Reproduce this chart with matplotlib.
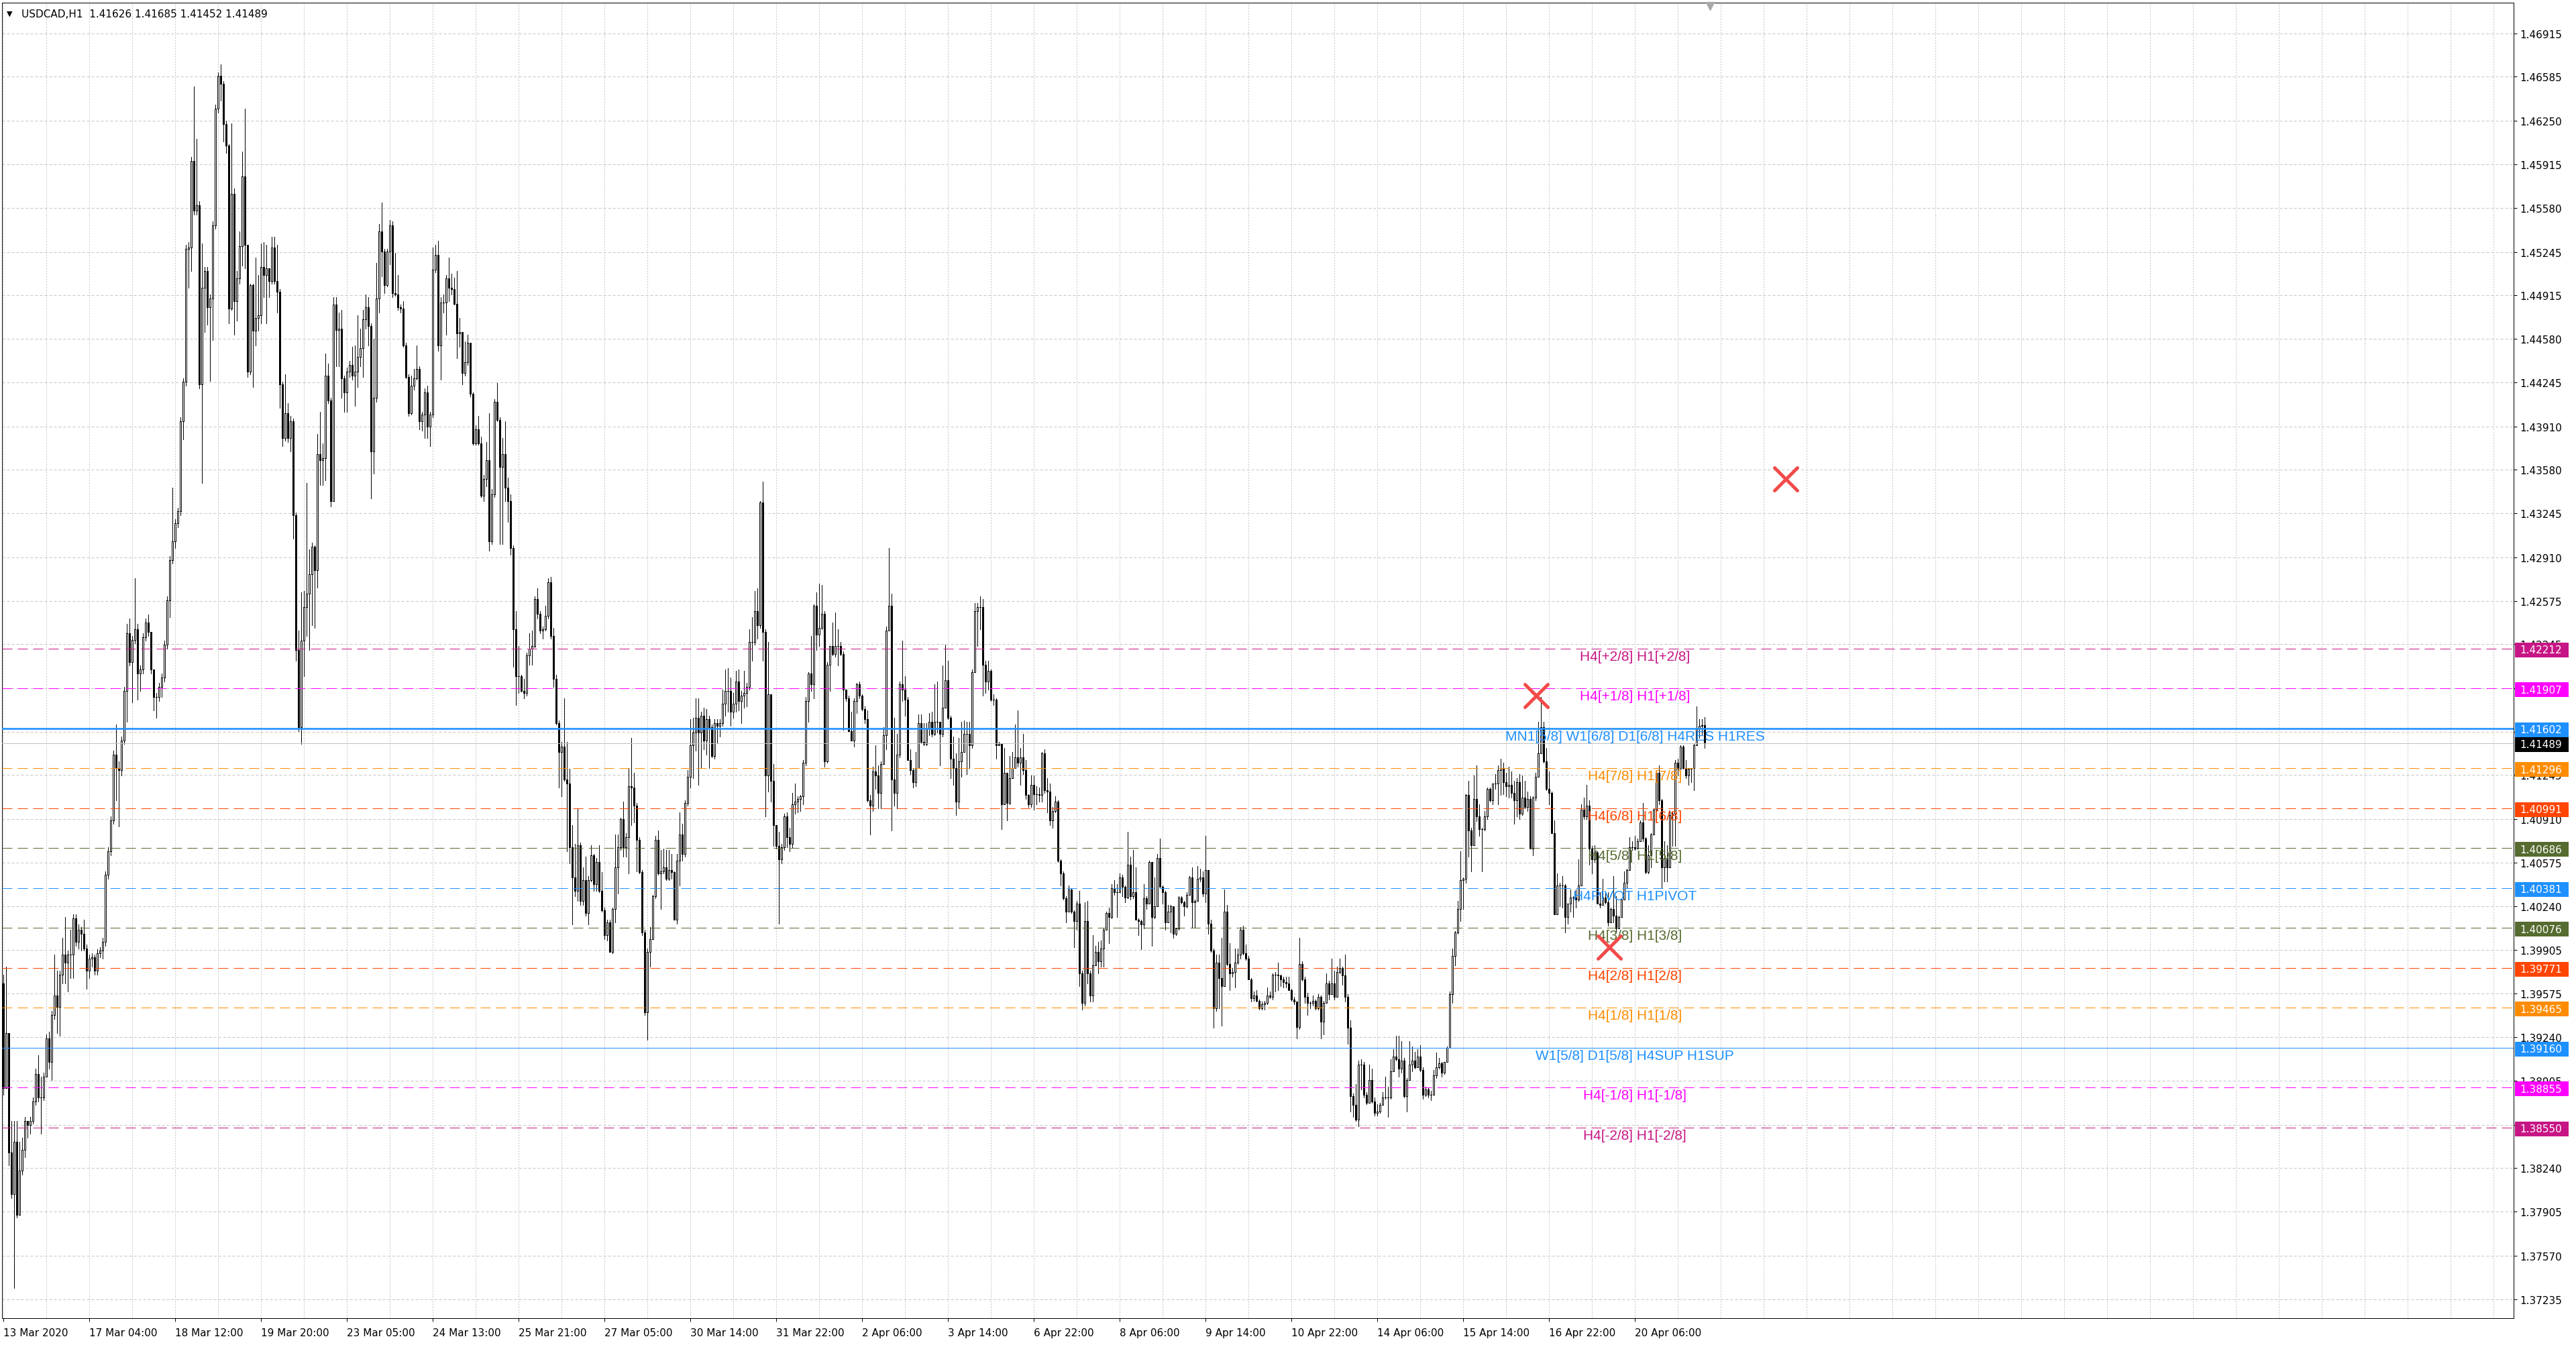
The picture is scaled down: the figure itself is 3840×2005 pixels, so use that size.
import numpy as np
import matplotlib
matplotlib.use("Agg")
import matplotlib.pyplot as plt
import matplotlib.transforms as mtransforms
from matplotlib import font_manager
from matplotlib.markers import MarkerStyle
from matplotlib.patches import Rectangle

# USDCAD H1 candles (bar 0 = 13 Mar 2020 evening)
first_open = 1.3965
close = [
    1.3885, 1.3927, 1.3836, 1.3804, 1.3844, 1.3788, 1.3822, 1.3838, 1.3860, 1.3857,
    1.3860, 1.3875, 1.3896, 1.3878, 1.3878, 1.3894, 1.3923, 1.3905, 1.3941, 1.3956,
    1.3947, 1.3972, 1.3987, 1.3981, 1.3987, 1.3987, 1.4015, 1.3997, 1.4006, 1.4003,
    1.3992, 1.3975, 1.3984, 1.3985, 1.3975, 1.3988, 1.3990, 1.3997, 1.4048, 1.4066,
    1.4090, 1.4140, 1.4130, 1.4128, 1.4151, 1.4189, 1.4233, 1.4211, 1.4228, 1.4236,
    1.4202, 1.4205, 1.4230, 1.4241, 1.4234, 1.4205, 1.4184, 1.4184, 1.4192, 1.4199,
    1.4224, 1.4258, 1.4289, 1.4303, 1.4317, 1.4326, 1.4395, 1.4425, 1.4527, 1.4528,
    1.4594, 1.4556, 1.4560, 1.4423, 1.4497, 1.4510, 1.4482, 1.4489, 1.4545, 1.4634,
    1.4659, 1.4653, 1.4622, 1.4606, 1.4481, 1.4569, 1.4487, 1.4504, 1.4529, 1.4582,
    1.4530, 1.4433, 1.4499, 1.4464, 1.4474, 1.4476, 1.4513, 1.4507, 1.4512, 1.4502,
    1.4528, 1.4502, 1.4494, 1.4423, 1.4382, 1.4401, 1.4382, 1.4395, 1.4323, 1.4220,
    1.4161, 1.4227, 1.4253, 1.4263, 1.4278, 1.4299, 1.4281, 1.4370, 1.4365, 1.4367,
    1.4430, 1.4411, 1.4334, 1.4484, 1.4465, 1.4466, 1.4428, 1.4417, 1.4433, 1.4438,
    1.4430, 1.4433, 1.4444, 1.4451, 1.4473, 1.4482, 1.4468, 1.4372, 1.4413, 1.4489,
    1.4540, 1.4525, 1.4499, 1.4525, 1.4545, 1.4493, 1.4492, 1.4482, 1.4481, 1.4453,
    1.4429, 1.4401, 1.4422, 1.4428, 1.4435, 1.4395, 1.4400, 1.4417, 1.4391, 1.4400,
    1.4511, 1.4522, 1.4453, 1.4486, 1.4486, 1.4504, 1.4497, 1.4496, 1.4485, 1.4462,
    1.4463, 1.4432, 1.4440, 1.4455, 1.4416, 1.4378, 1.4389, 1.4378, 1.4338, 1.4351,
    1.4365, 1.4303, 1.4339, 1.4410, 1.4396, 1.4360, 1.4370, 1.4344, 1.4334, 1.4298,
    1.4236, 1.4200, 1.4200, 1.4189, 1.4187, 1.4216, 1.4221, 1.4223, 1.4259, 1.4248,
    1.4235, 1.4236, 1.4246, 1.4272, 1.4231, 1.4198, 1.4164, 1.4142, 1.4146, 1.4121,
    1.4118, 1.4069, 1.4046, 1.4036, 1.4071, 1.4028, 1.4044, 1.4019, 1.4044, 1.4063,
    1.4041, 1.4058, 1.4036, 1.4021, 1.4002, 1.4012, 1.3989, 1.4022, 1.4054, 1.4069,
    1.4091, 1.4069, 1.4077, 1.4116, 1.4115, 1.4101, 1.4075, 1.4050, 1.4004, 1.3943,
    1.3989, 1.3999, 1.4032, 1.4075, 1.4049, 1.4051, 1.4054, 1.4045, 1.4052, 1.4050,
    1.4014, 1.4059, 1.4079, 1.4064, 1.4103, 1.4123, 1.4147, 1.4157, 1.4168, 1.4157,
    1.4170, 1.4151, 1.4167, 1.4161, 1.4139, 1.4164, 1.4162, 1.4164, 1.4179, 1.4189,
    1.4189, 1.4173, 1.4179, 1.4196, 1.4181, 1.4185, 1.4187, 1.4192, 1.4226, 1.4226,
    1.4250, 1.4239, 1.4333, 1.4234, 1.4124, 1.4186, 1.4120, 1.4086, 1.4070, 1.4060,
    1.4069, 1.4093, 1.4077, 1.4072, 1.4102, 1.4104, 1.4106, 1.4108, 1.4134, 1.4181,
    1.4202, 1.4194, 1.4254, 1.4232, 1.4237, 1.4248, 1.4135, 1.4209, 1.4223, 1.4217,
    1.4223, 1.4223, 1.4217, 1.4190, 1.4183, 1.4158, 1.4151, 1.4181, 1.4194, 1.4185,
    1.4175, 1.4167, 1.4105, 1.4101, 1.4127, 1.4124, 1.4111, 1.4133, 1.4155, 1.4235,
    1.4254, 1.4121, 1.4111, 1.4140, 1.4194, 1.4190, 1.4182, 1.4136, 1.4128, 1.4119,
    1.4130, 1.4164, 1.4150, 1.4148, 1.4160, 1.4165, 1.4156, 1.4165, 1.4165, 1.4156,
    1.4176, 1.4197, 1.4168, 1.4137, 1.4130, 1.4104, 1.4135, 1.4142, 1.4156, 1.4156,
    1.4147, 1.4203, 1.4250, 1.4253, 1.4253, 1.4209, 1.4196, 1.4204, 1.4182, 1.4182,
    1.4147, 1.4148, 1.4102, 1.4126, 1.4103, 1.4122, 1.4130, 1.4138, 1.4134, 1.4138,
    1.4128, 1.4109, 1.4102, 1.4117, 1.4110, 1.4110, 1.4109, 1.4141, 1.4113, 1.4112,
    1.4090, 1.4097, 1.4104, 1.4059, 1.4049, 1.4030, 1.4020, 1.4037, 1.4020, 1.4013,
    1.4026, 1.3973, 1.3950, 1.4013, 1.3973, 1.3956, 1.3979, 1.3989, 1.3982, 1.3992,
    1.4006, 1.4019, 1.4016, 1.4038, 1.4035, 1.4035, 1.4046, 1.4039, 1.4031, 1.4056,
    1.4032, 1.4035, 1.4014, 1.4013, 1.4010, 1.4030, 1.4026, 1.4058, 1.4016, 1.4024,
    1.4061, 1.4039, 1.4035, 1.4012, 1.4020, 1.4024, 1.4003, 1.4007, 1.4031, 1.4027,
    1.4024, 1.4033, 1.4046, 1.4027, 1.4028, 1.4045, 1.4046, 1.4034, 1.4052, 1.4011,
    1.3990, 1.3946, 1.3981, 1.3969, 1.3963, 1.4020, 1.3980, 1.3973, 1.3974, 1.3981,
    1.3987, 1.4006, 1.3988, 1.3984, 1.3968, 1.3954, 1.3956, 1.3952, 1.3946, 1.3949,
    1.3950, 1.3956, 1.3955, 1.3972, 1.3972, 1.3971, 1.3968, 1.3966, 1.3965, 1.3960,
    1.3953, 1.3951, 1.3932, 1.3980, 1.3968, 1.3955, 1.3950, 1.3950, 1.3952, 1.3946,
    1.3955, 1.3936, 1.3950, 1.3965, 1.3957, 1.3965, 1.3955, 1.3974, 1.3977, 1.3971,
    1.3955, 1.3931, 1.3879, 1.3872, 1.3861, 1.3903, 1.3903, 1.3880, 1.3874, 1.3891,
    1.3875, 1.3866, 1.3867, 1.3872, 1.3878, 1.3878, 1.3878, 1.3898, 1.3909, 1.3907,
    1.3900, 1.3906, 1.3879, 1.3891, 1.3903, 1.3906, 1.3901, 1.3909, 1.3899, 1.3880,
    1.3884, 1.3880, 1.3880, 1.3895, 1.3901, 1.3904, 1.3897, 1.3905, 1.3916, 1.3957,
    1.3986, 1.4004, 1.4022, 1.4044, 1.4045, 1.4109, 1.4082, 1.4071, 1.4106, 1.4093,
    1.4083, 1.4083, 1.4093, 1.4114, 1.4105, 1.4118, 1.4118, 1.4128, 1.4130, 1.4119,
    1.4116, 1.4117, 1.4111, 1.4105, 1.4119, 1.4095, 1.4107, 1.4100, 1.4106, 1.4068,
    1.4107, 1.4123, 1.4141, 1.4161, 1.4135, 1.4114, 1.4111, 1.4080, 1.4018, 1.4040,
    1.4040, 1.4040, 1.4016, 1.4026, 1.4031, 1.4031, 1.4029, 1.4040, 1.4098, 1.4093,
    1.4101, 1.4068, 1.4060, 1.4065, 1.4026, 1.4025, 1.4031, 1.4027, 1.4012, 1.4022,
    1.4017, 1.4007, 1.4016, 1.4029, 1.4042, 1.4052, 1.4069, 1.4069, 1.4068, 1.4074,
    1.4088, 1.4076, 1.4050, 1.4063, 1.4079, 1.4098, 1.4126, 1.4105, 1.4054, 1.4061,
    1.4054, 1.4094, 1.4095, 1.4134, 1.4129, 1.4146, 1.4130, 1.4124, 1.4129, 1.4130,
    1.4147, 1.4160, 1.4162, 1.41626, 1.41489,
]
high = [
    1.3972, 1.3978, 1.3927, 1.3860, 1.3860, 1.3860, 1.3844, 1.3847, 1.3863, 1.3860,
    1.3863, 1.3878, 1.3900, 1.3910, 1.3894, 1.3897, 1.3926, 1.3928, 1.3944, 1.3987,
    1.3975, 1.3975, 1.4000, 1.4016, 1.3990, 1.4006, 1.4018, 1.4018, 1.4010, 1.4008,
    1.4014, 1.3995, 1.3987, 1.3988, 1.3987, 1.3991, 1.3993, 1.4000, 1.4051, 1.4069,
    1.4093, 1.4143, 1.4163, 1.4135, 1.4154, 1.4192, 1.4240, 1.4244, 1.4231, 1.4275,
    1.4240, 1.4208, 1.4233, 1.4244, 1.4247, 1.4234, 1.4205, 1.4187, 1.4195, 1.4202,
    1.4227, 1.4261, 1.4292, 1.4344, 1.4320, 1.4329, 1.4398, 1.4428, 1.4530, 1.4532,
    1.4597, 1.4651, 1.4611, 1.4563, 1.4531, 1.4513, 1.4513, 1.4492, 1.4548, 1.4637,
    1.4662, 1.4668, 1.4655, 1.4625, 1.4607, 1.4623, 1.4573, 1.4510, 1.4540, 1.4601,
    1.4634, 1.4530, 1.4500, 1.4500, 1.4520, 1.4507, 1.4531, 1.4532, 1.4530, 1.4512,
    1.4536, 1.4536, 1.4530, 1.4496, 1.4425, 1.4431, 1.4409, 1.4399, 1.4397, 1.4325,
    1.4235, 1.4264, 1.4265, 1.4348, 1.4297, 1.4302, 1.4300, 1.4385, 1.4402, 1.4378,
    1.4447, 1.4439, 1.4413, 1.4490, 1.4490, 1.4478, 1.4480, 1.4430, 1.4436, 1.4441,
    1.4452, 1.4453, 1.4476, 1.4466, 1.4480, 1.4492, 1.4490, 1.4470, 1.4458, 1.4516,
    1.4546, 1.4562, 1.4527, 1.4527, 1.4549, 1.4548, 1.4524, 1.4507, 1.4484, 1.4487,
    1.4455, 1.4431, 1.4430, 1.4435, 1.4453, 1.4437, 1.4402, 1.4420, 1.4422, 1.4402,
    1.4528, 1.4530, 1.4533, 1.4490, 1.4492, 1.4507, 1.4520, 1.4508, 1.4505, 1.4510,
    1.4474, 1.4462, 1.4456, 1.4461, 1.4455, 1.4417, 1.4392, 1.4399, 1.4383, 1.4354,
    1.4379, 1.4401, 1.4343, 1.4412, 1.4424, 1.4398, 1.4382, 1.4395, 1.4352, 1.4339,
    1.4300, 1.4250, 1.4223, 1.4201, 1.4198, 1.4218, 1.4233, 1.4235, 1.4261, 1.4267,
    1.4250, 1.4238, 1.4254, 1.4275, 1.4276, 1.4237, 1.4201, 1.4166, 1.4150, 1.4183,
    1.4150, 1.4129, 1.4086, 1.4072, 1.4099, 1.4073, 1.4054, 1.4062, 1.4047, 1.4071,
    1.4064, 1.4061, 1.4071, 1.4050, 1.4023, 1.4014, 1.4014, 1.4023, 1.4079, 1.4079,
    1.4092, 1.4104, 1.4080, 1.4129, 1.4153, 1.4126, 1.4103, 1.4077, 1.4052, 1.4006,
    1.3992, 1.4008, 1.4033, 1.4078, 1.4082, 1.4067, 1.4068, 1.4067, 1.4067, 1.4064,
    1.4051, 1.4064, 1.4096, 1.4087, 1.4105, 1.4128, 1.4167, 1.4168, 1.4183, 1.4183,
    1.4173, 1.4176, 1.4175, 1.4170, 1.4163, 1.4167, 1.4167, 1.4167, 1.4190, 1.4205,
    1.4206, 1.4199, 1.4187, 1.4204, 1.4205, 1.4189, 1.4204, 1.4195, 1.4236, 1.4245,
    1.4265, 1.4267, 1.4334, 1.4349, 1.4236, 1.4226, 1.4186, 1.4133, 1.4086, 1.4081,
    1.4072, 1.4095, 1.4096, 1.4084, 1.4111, 1.4118, 1.4108, 1.4109, 1.4136, 1.4184,
    1.4203, 1.4231, 1.4255, 1.4264, 1.4271, 1.4270, 1.4250, 1.4211, 1.4223, 1.4241,
    1.4249, 1.4236, 1.4226, 1.4219, 1.4190, 1.4185, 1.4173, 1.4183, 1.4195, 1.4196,
    1.4186, 1.4177, 1.4174, 1.4109, 1.4131, 1.4147, 1.4132, 1.4135, 1.4161, 1.4238,
    1.4298, 1.4263, 1.4168, 1.4156, 1.4196, 1.4227, 1.4200, 1.4184, 1.4144, 1.4130,
    1.4142, 1.4171, 1.4171, 1.4164, 1.4164, 1.4172, 1.4173, 1.4194, 1.4196, 1.4165,
    1.4208, 1.4224, 1.4212, 1.4170, 1.4154, 1.4141, 1.4153, 1.4165, 1.4166, 1.4165,
    1.4165, 1.4205, 1.4256, 1.4256, 1.4261, 1.4259, 1.4212, 1.4212, 1.4205, 1.4186,
    1.4183, 1.4150, 1.4149, 1.4145, 1.4126, 1.4139, 1.4142, 1.4163, 1.4174, 1.4145,
    1.4156, 1.4136, 1.4110, 1.4124, 1.4124, 1.4116, 1.4115, 1.4142, 1.4144, 1.4122,
    1.4118, 1.4100, 1.4108, 1.4105, 1.4060, 1.4051, 1.4032, 1.4040, 1.4038, 1.4021,
    1.4028, 1.4036, 1.3975, 1.4027, 1.4028, 1.3975, 1.4002, 1.3994, 1.3997, 1.3998,
    1.4007, 1.4020, 1.4023, 1.4041, 1.4044, 1.4041, 1.4049, 1.4048, 1.4040, 1.4081,
    1.4062, 1.4067, 1.4054, 1.4015, 1.4014, 1.4041, 1.4032, 1.4059, 1.4058, 1.4046,
    1.4064, 1.4076, 1.4040, 1.4036, 1.4025, 1.4025, 1.4023, 1.4007, 1.4032, 1.4032,
    1.4028, 1.4035, 1.4047, 1.4054, 1.4029, 1.4055, 1.4053, 1.4051, 1.4078, 1.4052,
    1.4014, 1.3992, 1.3987, 1.3987, 1.4000, 1.4037, 1.4025, 1.3996, 1.3977, 1.3992,
    1.3992, 1.4008, 1.4009, 1.3995, 1.3986, 1.3969, 1.3959, 1.3960, 1.3953, 1.3951,
    1.3952, 1.3962, 1.3959, 1.3973, 1.3974, 1.3981, 1.3972, 1.3970, 1.3970, 1.3970,
    1.3961, 1.3955, 1.3937, 1.4000, 1.3982, 1.3970, 1.3958, 1.3951, 1.3956, 1.3953,
    1.3957, 1.3956, 1.3952, 1.3973, 1.3967, 1.3984, 1.3975, 1.3978, 1.3984, 1.3978,
    1.3987, 1.3957, 1.3937, 1.3881, 1.3888, 1.3906, 1.3907, 1.3905, 1.3882, 1.3903,
    1.3900, 1.3878, 1.3873, 1.3874, 1.3882, 1.3894, 1.3886, 1.3907, 1.3915, 1.3925,
    1.3925, 1.3921, 1.3908, 1.3893, 1.3921, 1.3917, 1.3913, 1.3915, 1.3918, 1.3901,
    1.3886, 1.3885, 1.3883, 1.3899, 1.3912, 1.3908, 1.3905, 1.3905, 1.3917, 1.3959,
    1.3992, 1.4005, 1.4028, 1.4066, 1.4046, 1.4110, 1.4120, 1.4084, 1.4124, 1.4132,
    1.4102, 1.4084, 1.4097, 1.4115, 1.4115, 1.4118, 1.4125, 1.4132, 1.4137, 1.4134,
    1.4126, 1.4131, 1.4127, 1.4120, 1.4122, 1.4125, 1.4124, 1.4120, 1.4112, 1.4108,
    1.4108, 1.4126, 1.4165, 1.4184, 1.4165, 1.4145, 1.4127, 1.4112, 1.4090, 1.4049,
    1.4042, 1.4047, 1.4041, 1.4026, 1.4037, 1.4032, 1.4037, 1.4060, 1.4102, 1.4107,
    1.4117, 1.4105, 1.4070, 1.4071, 1.4066, 1.4035, 1.4045, 1.4035, 1.4035, 1.4023,
    1.4047, 1.4032, 1.4017, 1.4030, 1.4051, 1.4053, 1.4077, 1.4074, 1.4078, 1.4076,
    1.4090, 1.4103, 1.4077, 1.4071, 1.4080, 1.4099, 1.4127, 1.4132, 1.4106, 1.4074,
    1.4071, 1.4097, 1.4096, 1.4136, 1.4137, 1.4147, 1.4147, 1.4136, 1.4130, 1.4130,
    1.4148, 1.4177, 1.4167, 1.4167, 1.41685,
]
low = [
    1.3880, 1.3885, 1.3826, 1.3801, 1.3732, 1.3786, 1.3788, 1.3819, 1.3832, 1.3847,
    1.3850, 1.3858, 1.3872, 1.3875, 1.3850, 1.3876, 1.3897, 1.3900, 1.3891, 1.3938,
    1.3927, 1.3925, 1.3965, 1.3965, 1.3959, 1.3969, 1.3969, 1.3994, 1.3992, 1.3990,
    1.3990, 1.3961, 1.3969, 1.3978, 1.3972, 1.3972, 1.3985, 1.3984, 1.3994, 1.4045,
    1.4063, 1.4087, 1.4105, 1.4085, 1.4124, 1.4148, 1.4165, 1.4208, 1.4180, 1.4225,
    1.4182, 1.4189, 1.4202, 1.4227, 1.4231, 1.4202, 1.4174, 1.4168, 1.4181, 1.4184,
    1.4196, 1.4221, 1.4245, 1.4286, 1.4298, 1.4314, 1.4323, 1.4381, 1.4422, 1.4497,
    1.4510, 1.4553, 1.4553, 1.4420, 1.4348, 1.4463, 1.4469, 1.4426, 1.4457, 1.4542,
    1.4631, 1.4640, 1.4609, 1.4600, 1.4470, 1.4480, 1.4461, 1.4472, 1.4500, 1.4514,
    1.4512, 1.4429, 1.4431, 1.4421, 1.4453, 1.4464, 1.4470, 1.4490, 1.4470, 1.4490,
    1.4500, 1.4500, 1.4478, 1.4405, 1.4376, 1.4380, 1.4379, 1.4372, 1.4305, 1.4212,
    1.4158, 1.4148, 1.4200, 1.4231, 1.4220, 1.4239, 1.4237, 1.4268, 1.4346, 1.4346,
    1.4350, 1.4409, 1.4330, 1.4355, 1.4437, 1.4437, 1.4413, 1.4402, 1.4402, 1.4429,
    1.4427, 1.4407, 1.4421, 1.4437, 1.4429, 1.4466, 1.4453, 1.4336, 1.4355, 1.4410,
    1.4478, 1.4506, 1.4493, 1.4498, 1.4515, 1.4490, 1.4491, 1.4480, 1.4478, 1.4452,
    1.4428, 1.4399, 1.4400, 1.4419, 1.4427, 1.4389, 1.4388, 1.4382, 1.4382, 1.4376,
    1.4398, 1.4509, 1.4449, 1.4427, 1.4478, 1.4461, 1.4487, 1.4492, 1.4484, 1.4443,
    1.4452, 1.4423, 1.4430, 1.4438, 1.4414, 1.4377, 1.4377, 1.4377, 1.4337, 1.4334,
    1.4345, 1.4296, 1.4301, 1.4337, 1.4395, 1.4301, 1.4301, 1.4334, 1.4318, 1.4293,
    1.4207, 1.4178, 1.4187, 1.4188, 1.4183, 1.4185, 1.4209, 1.4209, 1.4222, 1.4244,
    1.4233, 1.4229, 1.4235, 1.4244, 1.4229, 1.4192, 1.4163, 1.4115, 1.4108, 1.4120,
    1.4066, 1.4057, 1.4010, 1.4032, 1.4028, 1.4025, 1.4025, 1.4017, 1.4010, 1.4043,
    1.4036, 1.4036, 1.4035, 1.4020, 1.3999, 1.3998, 1.3989, 1.3988, 1.4012, 1.4034,
    1.4067, 1.4062, 1.4062, 1.4049, 1.4086, 1.4088, 1.4051, 1.4049, 1.4002, 1.3941,
    1.3922, 1.3978, 1.4013, 1.4030, 1.4048, 1.4022, 1.4049, 1.4044, 1.4044, 1.4045,
    1.4014, 1.4011, 1.4040, 1.4059, 1.4062, 1.4101, 1.4115, 1.4122, 1.4143, 1.4117,
    1.4130, 1.4144, 1.4140, 1.4130, 1.4138, 1.4137, 1.4149, 1.4154, 1.4162, 1.4170,
    1.4173, 1.4162, 1.4168, 1.4173, 1.4174, 1.4164, 1.4176, 1.4177, 1.4190, 1.4212,
    1.4224, 1.4229, 1.4237, 1.4212, 1.4093, 1.4112, 1.4104, 1.4070, 1.4068, 1.4011,
    1.4057, 1.4067, 1.4069, 1.4066, 1.4069, 1.4095, 1.4096, 1.4097, 1.4102, 1.4132,
    1.4165, 1.4189, 1.4183, 1.4220, 1.4223, 1.4236, 1.4131, 1.4134, 1.4189, 1.4216,
    1.4215, 1.4208, 1.4216, 1.4159, 1.4181, 1.4158, 1.4151, 1.4146, 1.4172, 1.4183,
    1.4174, 1.4164, 1.4104, 1.4079, 1.4097, 1.4114, 1.4099, 1.4099, 1.4133, 1.4144,
    1.4235, 1.4082, 1.4101, 1.4099, 1.4138, 1.4181, 1.4170, 1.4136, 1.4125, 1.4115,
    1.4116, 1.4130, 1.4149, 1.4147, 1.4147, 1.4155, 1.4154, 1.4155, 1.4157, 1.4132,
    1.4154, 1.4176, 1.4167, 1.4122, 1.4117, 1.4094, 1.4099, 1.4123, 1.4142, 1.4125,
    1.4130, 1.4145, 1.4220, 1.4223, 1.4236, 1.4185, 1.4187, 1.4190, 1.4181, 1.4178,
    1.4137, 1.4147, 1.4083, 1.4102, 1.4090, 1.4102, 1.4122, 1.4130, 1.4131, 1.4117,
    1.4125, 1.4106, 1.4100, 1.4100, 1.4098, 1.4102, 1.4104, 1.4104, 1.4111, 1.4096,
    1.4086, 1.4084, 1.4096, 1.4058, 1.4040, 1.4029, 1.4012, 1.4020, 1.4019, 1.3993,
    1.4006, 1.3963, 1.3945, 1.3948, 1.3965, 1.3951, 1.3951, 1.3979, 1.3973, 1.3978,
    1.3978, 1.4006, 1.3996, 1.4015, 1.4033, 1.4016, 1.4035, 1.4032, 1.4027, 1.4030,
    1.4029, 1.4030, 1.4014, 1.4002, 1.3991, 1.4007, 1.4022, 1.4026, 1.3994, 1.4015,
    1.4024, 1.4039, 1.4026, 1.4006, 1.4012, 1.4004, 1.4000, 1.4002, 1.4006, 1.4026,
    1.4017, 1.4023, 1.4033, 1.4008, 1.4008, 1.4028, 1.4043, 1.4032, 1.4027, 1.4003,
    1.3989, 1.3931, 1.3944, 1.3946, 1.3933, 1.3963, 1.3979, 1.3960, 1.3970, 1.3962,
    1.3980, 1.3984, 1.3987, 1.3983, 1.3968, 1.3951, 1.3952, 1.3951, 1.3945, 1.3945,
    1.3945, 1.3949, 1.3954, 1.3953, 1.3959, 1.3960, 1.3963, 1.3962, 1.3962, 1.3960,
    1.3952, 1.3949, 1.3923, 1.3930, 1.3967, 1.3950, 1.3941, 1.3946, 1.3948, 1.3945,
    1.3945, 1.3923, 1.3926, 1.3950, 1.3953, 1.3957, 1.3953, 1.3955, 1.3973, 1.3964,
    1.3951, 1.3919, 1.3867, 1.3863, 1.3860, 1.3856, 1.3884, 1.3878, 1.3873, 1.3874,
    1.3874, 1.3864, 1.3864, 1.3866, 1.3872, 1.3877, 1.3863, 1.3877, 1.3898, 1.3906,
    1.3894, 1.3897, 1.3878, 1.3867, 1.3891, 1.3898, 1.3900, 1.3901, 1.3898, 1.3877,
    1.3879, 1.3878, 1.3876, 1.3880, 1.3893, 1.3900, 1.3894, 1.3896, 1.3905, 1.3916,
    1.3950, 1.3979, 1.4003, 1.4013, 1.4022, 1.4042, 1.4062, 1.4051, 1.4071, 1.4089,
    1.4078, 1.4051, 1.4082, 1.4091, 1.4104, 1.4102, 1.4114, 1.4102, 1.4109, 1.4110,
    1.4108, 1.4107, 1.4107, 1.4087, 1.4093, 1.4091, 1.4094, 1.4099, 1.4097, 1.4068,
    1.4063, 1.4105, 1.4123, 1.4141, 1.4134, 1.4113, 1.4102, 1.4080, 1.4018, 1.4018,
    1.4024, 1.4023, 1.4004, 1.4011, 1.4020, 1.4016, 1.4023, 1.4028, 1.4040, 1.4091,
    1.4091, 1.4056, 1.4049, 1.4058, 1.4026, 1.4023, 1.4025, 1.4026, 1.4009, 1.4012,
    1.4012, 1.4004, 1.4013, 1.4016, 1.4029, 1.4038, 1.4052, 1.4067, 1.4067, 1.4068,
    1.4074, 1.4074, 1.4049, 1.4049, 1.4054, 1.4079, 1.4098, 1.4102, 1.4038, 1.4043,
    1.4043, 1.4054, 1.4070, 1.4070, 1.4124, 1.4129, 1.4129, 1.4122, 1.4117, 1.4119,
    1.4113, 1.4148, 1.4153, 1.4155, 1.41452,
]

date_bars = [0, 32, 64, 96, 128, 160, 192, 224, 256, 288,
             320, 352, 384, 416, 448, 480, 512, 544, 576, 608]
date_labels = ["13 Mar 2020", "17 Mar 04:00", "18 Mar 12:00", "19 Mar 20:00",
               "23 Mar 05:00", "24 Mar 13:00", "25 Mar 21:00", "27 Mar 05:00",
               "30 Mar 14:00", "31 Mar 22:00", "2 Apr 06:00", "3 Apr 14:00",
               "6 Apr 22:00", "8 Apr 06:00", "9 Apr 14:00", "10 Apr 22:00",
               "14 Apr 06:00", "15 Apr 14:00", "16 Apr 22:00", "20 Apr 06:00"]

price_ticks = [1.46915, 1.46585, 1.46250, 1.45915, 1.45580, 1.45245, 1.44915,
               1.44580, 1.44245, 1.43910, 1.43580, 1.43245, 1.42910, 1.42575,
               1.42245, 1.41910, 1.41575, 1.41245, 1.40910, 1.40575, 1.40240,
               1.39905, 1.39575, 1.39240, 1.38905, 1.38570, 1.38240, 1.37905,
               1.37570, 1.37235]

# Murrey math levels
level_prices = [1.42212, 1.41907, 1.41602, 1.41296, 1.40991, 1.40686, 1.40381,
                1.40076, 1.39771, 1.39465, 1.39160, 1.38855, 1.38550]
level_names = ["H4[+2/8] H1[+2/8]", "H4[+1/8] H1[+1/8]",
               "MN1[5/8] W1[6/8] D1[6/8] H4RES H1RES",
               "H4[7/8] H1[7/8]", "H4[6/8] H1[6/8]", "H4[5/8] H1[5/8]",
               "H4PIVOT H1PIVOT", "H4[3/8] H1[3/8]", "H4[2/8] H1[2/8]",
               "H4[1/8] H1[1/8]", "W1[5/8] D1[5/8] H4SUP H1SUP",
               "H4[-1/8] H1[-1/8]", "H4[-2/8] H1[-2/8]"]
level_colors = ["#C71585", "#FF00FF", "#1E90FF", "#FF8C00", "#FF4500", "#556B2F",
                "#1E90FF", "#556B2F", "#FF4500", "#FF8C00", "#1E90FF", "#FF00FF",
                "#C71585"]
level_kind = ["dash", "dash", "res", "dash", "dash", "dash", "dash",
              "dash", "dash", "dash", "sup", "dash", "dash"]
label_bar = 608

bid = 1.41489
header = "USDCAD,H1  1.41626 1.41685 1.41452 1.41489"

cross_bars = [571.3, 598.5, 664.3]
cross_prices = [1.4185, 1.3993, 1.4351]

# ---- figure ----
W, H = 3840, 2006
PX = 0.72  # one pixel in points at dpi 100
plt.rcParams["font.family"] = ["DejaVu Sans"]

fig = plt.figure(figsize=(W / 100, H / 100), dpi=100)
ax = fig.add_axes([3 / W, 40 / H, 3744 / W, 1961 / H])
ax.set_xlim(-0.5, 935.5)
y0, y1 = 1.37091, 1.47151
ax.set_ylim(y0, y1)
per_px = (y1 - y0) / 1961

n = min(len(close), len(high), len(low))
c = np.array(close[:n])
o = np.concatenate([[first_open], c[:-1]])
hi = np.maximum(np.array(high[:n]), np.maximum(o, c))
lo = np.minimum(np.array(low[:n]), np.minimum(o, c))
x = np.arange(n)
up = c >= o

ax.vlines(x, lo, hi, colors="black", linewidth=PX, zorder=3, antialiased=False)
ax.bar(x[up], (c - o)[up], bottom=o[up], width=0.5, facecolor="white",
       edgecolor="black", linewidth=PX, zorder=3.5, antialiased=False)
ax.bar(x[~up], (o - c)[~up], bottom=c[~up], width=0.5, facecolor="black",
       edgecolor="black", linewidth=PX, zorder=3.5, antialiased=False)

# level label font: narrow if we have it
fnames = {f.name for f in font_manager.fontManager.ttflist}
if "Liberation Sans Narrow" in fnames:
    lvl_family, lvl_size = "Liberation Sans Narrow", 18
else:
    lvl_family, lvl_size = "Liberation Sans", 15

for p, name, col, kind in zip(level_prices, level_names, level_colors, level_kind):
    if kind == "res":
        ax.axhline(p, color=col, linewidth=2.6 * PX, zorder=4)
    elif kind == "sup":
        ax.axhline(p, color=col, linewidth=PX, zorder=4)
    else:
        ax.axhline(p, color=col, linewidth=PX, linestyle=(0, (15, 8)), zorder=4)
    ax.text(label_bar, p - 2 * per_px, name, color=col, ha="center", va="top",
            fontsize=lvl_size, family=lvl_family, zorder=6)

ax.axhline(bid, color="#C0C0C0", linewidth=PX, zorder=4)

# red crosses
xmark = MarkerStyle("x", capstyle="round")
ax.plot(cross_bars, cross_prices, linestyle="none", marker=xmark, markersize=24,
        markeredgewidth=3.6, color="#F24A4A", zorder=7, clip_on=False)

# chart shift marker at the top edge
ax.plot([636], [y1 - 5 * per_px], marker="v", markersize=9, color="#A8A8A8",
        linestyle="none", clip_on=False, zorder=8)

# axes styling
for sp in ax.spines.values():
    sp.set_color("black")
    sp.set_linewidth(PX)

ax.yaxis.tick_right()
ax.set_yticks(price_ticks, ["%.5f" % v for v in price_ticks])
ax.tick_params(axis="y", direction="out", length=5 * PX, width=PX, pad=4 * PX,
               labelsize=11, colors="black")

ax.set_xticks(date_bars, date_labels)
ax.set_xticks(np.arange(16, 936, 16), minor=True)
for lab in ax.get_xticklabels():
    lab.set_horizontalalignment("left")
ax.tick_params(axis="x", which="major", direction="out", length=5 * PX, width=PX,
               pad=9 * PX, labelsize=11, colors="black")
ax.tick_params(axis="x", which="minor", length=0)

ax.grid(axis="x", which="both", color="#C4C4C4", linestyle=(0, (2, 2)), linewidth=PX)
ax.grid(axis="y", which="major", color="#C4C4C4", linestyle=(0, (4, 3)), linewidth=PX)
ax.set_axisbelow(True)

# price tags on the right scale
trans = mtransforms.blended_transform_factory(ax.transAxes, ax.transData)
tag_h = 22 * per_px
tags = list(zip(level_prices, level_colors)) + [(bid, "black")]
for p, col in tags:
    ax.add_patch(Rectangle((1 + 2 / 3744, p - tag_h / 2 - 2 * per_px), 80 / 3744, tag_h,
                           transform=trans, facecolor=col, edgecolor="none",
                           clip_on=False, zorder=10))
    ax.text(1 + 9 / 3744, p - 2 * per_px, "%.5f" % p, transform=trans, color="white",
            ha="left", va="center", fontsize=11, clip_on=False, zorder=11)

# header
fig.text(10 / W, 1 - 21 / H, "\u25bc", fontsize=8, va="center", ha="left")
fig.text(32 / W, 1 - 21 / H, header, fontsize=11, va="center", ha="left")

fig.savefig("out.png", dpi=100, facecolor="white")
